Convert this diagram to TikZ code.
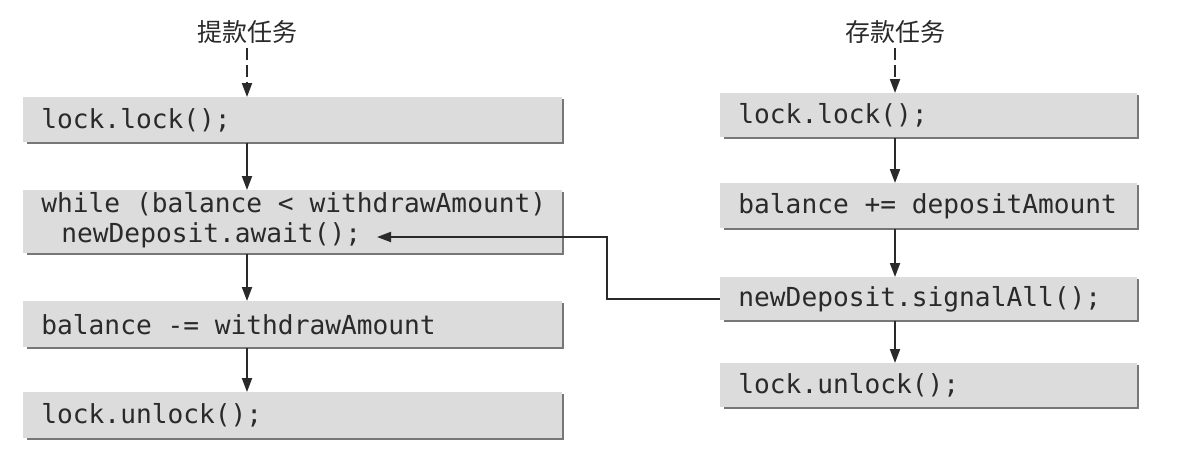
\documentclass[tikz,border=0pt]{standalone}
\usepackage{fontspec}
\setmonofont{DejaVu Sans Mono}
\newfontfamily\cjk{Noto Sans CJK SC}
\usetikzlibrary{arrows.meta}
\definecolor{boxfill}{HTML}{DCDCDC}
\definecolor{shadowc}{HTML}{777777}
\definecolor{inkc}{HTML}{2A2A2A}
\newcommand\lcell[1]{\makebox[251.5pt][l]{#1}}
\newcommand\rcell[1]{\makebox[190.5pt][l]{#1}}
\tikzset{
  codebox/.style={fill=boxfill, anchor=north west, inner xsep=9pt, inner ysep=0pt,
    font=\fontsize{13.1}{15}\selectfont\ttfamily, text=inkc},
  boxshade/.style={draw=shadowc, line width=1.3pt},
  arr/.style={draw=inkc, line width=1pt, -{Triangle[length=7pt,width=5pt]}},
  dasharr/.style={arr, dash pattern=on 6pt off 2.5pt},
  tasklabel/.style={font=\fontsize{12.5}{14}\selectfont\cjk, text=inkc, inner sep=2pt},
}
\begin{document}
\begin{tikzpicture}[x=0.5pt,y=-0.5pt]
\useasboundingbox[fill=white] (0,0) rectangle (1177,456);
% left column
\node[tasklabel] (TL) at (247,32) {提款任务};
\node[codebox, minimum height=22.5pt] (L1) at (23,97) {\lcell{lock.lock();}};
\node[codebox, minimum height=31.5pt] (L2) at (23,190) {\lcell{\begin{tabular}{@{}l@{}}while (balance < withdrawAmount)\\\hspace*{10pt}newDeposit.await();\end{tabular}}};
\node[codebox, minimum height=23pt] (L3) at (23,301) {\lcell{balance -= withdrawAmount}};
\node[codebox, minimum height=23pt] (L4) at (23,392) {\lcell{lock.unlock();}};
% right column
\node[tasklabel] (TR) at (895,32) {存款任务};
\node[codebox, minimum height=22pt] (R1) at (720,93) {\rcell{lock.lock();}};
\node[codebox, minimum height=22.5pt] (R2) at (720,183) {\rcell{balance += depositAmount}};
\node[codebox, minimum height=21.5pt] (R3) at (720,277) {\rcell{newDeposit.signalAll();}};
\node[codebox, minimum height=22pt] (R4) at (720,363) {\rcell{lock.unlock();}};
% shadows
\foreach \n in {L1,L2,L3,L4,R1,R2,R3,R4}
  \draw[boxshade] ([xshift=2pt]\n.south west) -- (\n.south east) -- ([yshift=-1pt]\n.north east);
% helper coordinates
\coordinate (lx) at (247,0);
\coordinate (rx) at (895,0);
\coordinate (bend) at (607,237);
\coordinate (tip) at (377,237);
% arrows
\draw[dasharr] (TL.south) -- (L1.north -| TL.south);
\draw[arr] (L1.south -| lx) -- (L2.north -| lx);
\draw[arr] (L2.south -| lx) -- (L3.north -| lx);
\draw[arr] (L3.south -| lx) -- (L4.north -| lx);
\draw[dasharr] (TR.south) -- (R1.north -| TR.south);
\draw[arr] (R1.south -| rx) -- (R2.north -| rx);
\draw[arr] (R2.south -| rx) -- (R3.north -| rx);
\draw[arr] (R3.south -| rx) -- (R4.north -| rx);
\draw[arr] (R3.west) -- (R3.west -| bend) -- (bend) -- (tip);
\end{tikzpicture}
\end{document}
